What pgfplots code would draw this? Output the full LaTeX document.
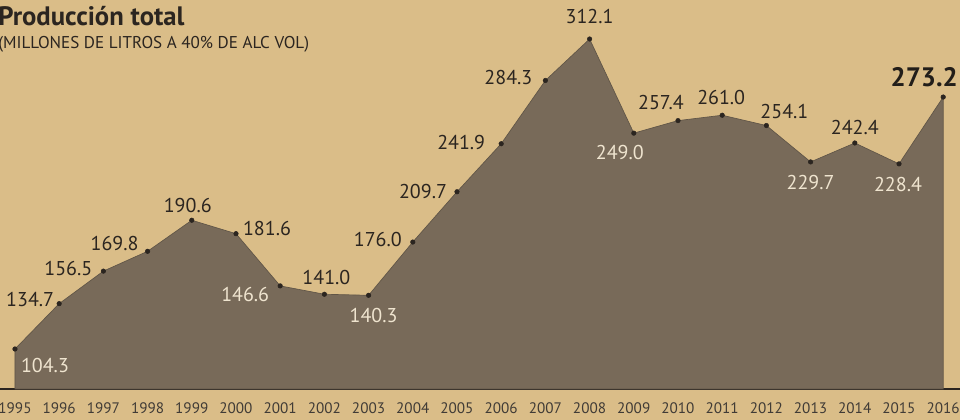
\documentclass[border=0pt]{standalone}
\usepackage{pgfplots}
\pgfplotsset{compat=1.18}
\usepackage{fontspec}
\setmainfont{PT Sans}
\definecolor{bg}{HTML}{DABD88}
\definecolor{areac}{HTML}{786A59}
\definecolor{ink}{HTML}{2B2520}
\definecolor{lite}{HTML}{EFE4CF}
\pgfplotstableread{
year val
1995 104.3
1996 134.7
1997 156.5
1998 169.8
1999 190.6
2000 181.6
2001 146.6
2002 141.0
2003 140.3
2004 176.0
2005 209.7
2006 241.9
2007 284.3
2008 312.1
2009 249.0
2010 257.4
2011 261.0
2012 254.1
2013 229.7
2014 242.4
2015 228.4
2016 273.2
}\prod
\newcommand{\lab}[5]{\node[font=\fontsize{15}{16}\selectfont, text=#5, xshift=#3*0.75pt, yshift=-#4*0.75pt] at (axis cs:#1) {#2};}
\begin{document}
\begin{tikzpicture}[x=1pt,y=1pt]
\useasboundingbox (0,0) rectangle (720,315);
\fill[bg] (0,0) rectangle (720,315);
\begin{scope}
\clip (0,0) rectangle (720,315);
\begin{axis}[at={(0pt,23.25pt)}, anchor=south west, scale only axis,
  width=720pt, height=291.75pt,
  xmin=1994.661, xmax=2016.380, ymin=77.49, ymax=338.25,
  axis y line=none, axis x line*=bottom, ytick=\empty,
  x axis line style={draw=ink, line width=1.1pt},
  xtick={1995,...,2016}, major tick length=0pt,
  /pgf/number format/1000 sep={},
  /pgf/number format/assume math mode=true,
  xticklabel style={font=\fontsize{11.4}{12}\selectfont, text=ink!90, anchor=base, inner sep=0pt, yshift=-18.4pt},
  clip=false]
\addplot[fill=areac, draw=areac!80!black, line width=0.5pt] table[x=year,y=val]{\prod} \closedcycle;
\addplot[only marks, mark=*, mark size=1.7pt, mark options={fill=ink, draw=ink}] table[x=year,y=val]{\prod};
\lab{1995,104.3}{104.3}{30}{16}{lite}
\lab{1996,134.7}{134.7}{-29}{-4}{ink}
\lab{1997,156.5}{156.5}{-35}{-3}{ink}
\lab{1998,169.8}{169.8}{-33}{-8}{ink}
\lab{1999,190.6}{190.6}{-4}{-15}{ink}
\lab{2000,181.6}{181.6}{31}{-5}{ink}
\lab{2001,146.6}{146.6}{-35}{9}{lite}
\lab{2002,141.0}{141.0}{2}{-17}{ink}
\lab{2003,140.3}{140.3}{5}{20}{lite}
\lab{2004,176.0}{176.0}{-35}{-3}{ink}
\lab{2005,209.7}{209.7}{-34}{0}{ink}
\lab{2006,241.9}{241.9}{-40}{-1}{ink}
\lab{2007,284.3}{284.3}{-37}{-3}{ink}
\lab{2008,312.1}{312.1}{0}{-23}{ink}
\lab{2009,249.0}{249.0}{-14}{19}{lite}
\lab{2010,257.4}{257.4}{-17}{-18}{ink}
\lab{2011,261.0}{261.0}{-1}{-18}{ink}
\lab{2012,254.1}{254.1}{18}{-14}{ink}
\lab{2013,229.7}{229.7}{0}{21}{lite}
\lab{2014,242.4}{242.4}{0}{-15}{ink}
\lab{2015,228.4}{228.4}{-1}{21}{lite}
\node[font=\bfseries\fontsize{20}{21}\selectfont, text=ink!80!black, xshift=-19*0.75pt, yshift=20*0.75pt] at (axis cs:2016,273.2) {273.2};
\end{axis}
\node[anchor=base west, inner sep=0pt, font=\bfseries\fontsize{20}{21}\selectfont, text=ink] at (-1.5,296) {Producción total};
\node[anchor=base west, inner sep=0pt, font=\fontsize{12.8}{13}\selectfont, text=ink] at (-1.5,278.5) {(MILLONES DE LITROS A 40\% DE ALC VOL)};
\end{scope}
\end{tikzpicture}
\end{document}
